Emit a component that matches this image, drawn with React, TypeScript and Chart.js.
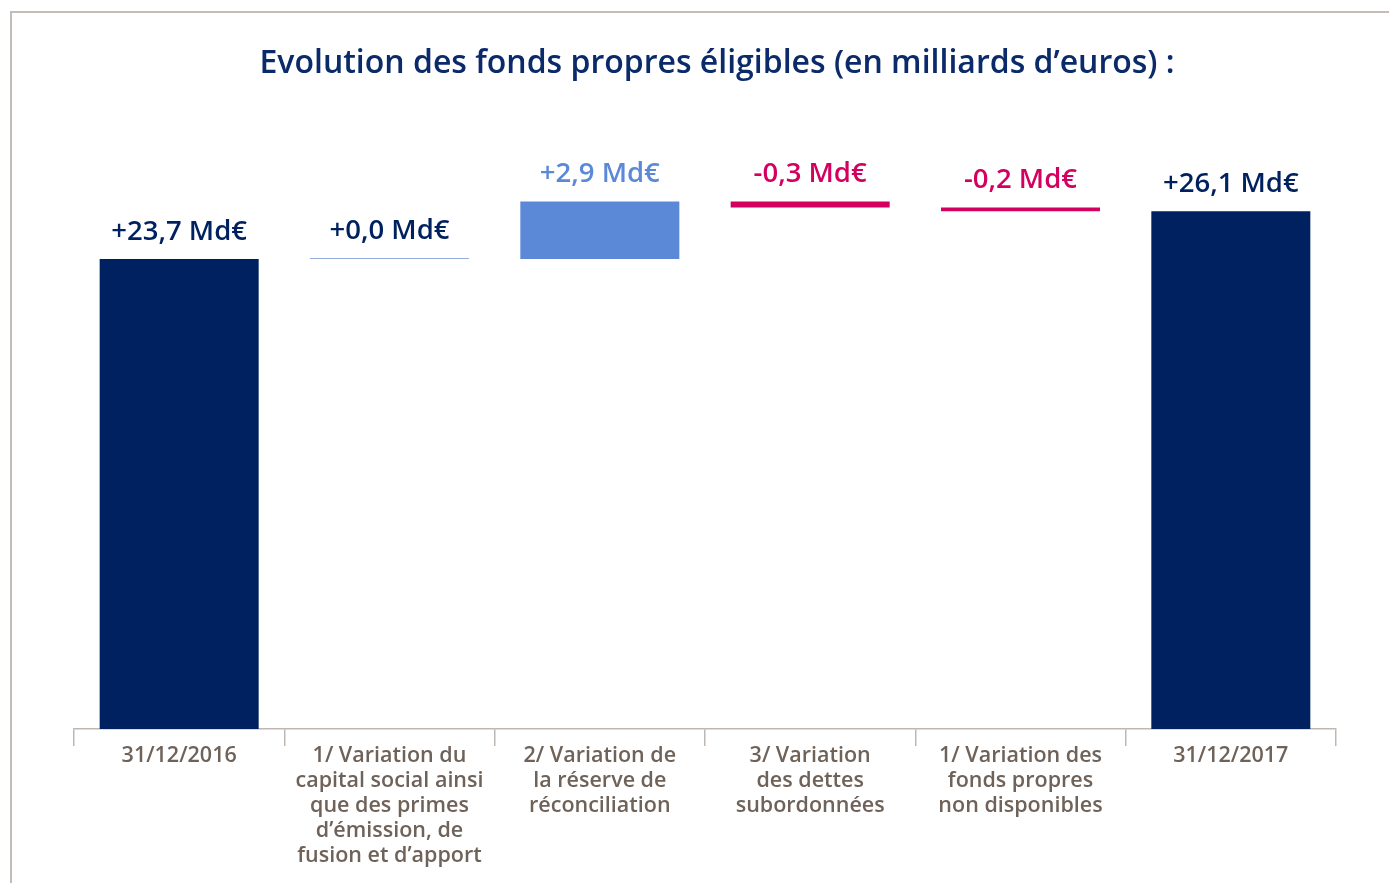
import React, { useEffect, useRef } from "react";
import { Chart, registerables } from "chart.js";

Chart.register(...registerables);

const TITLE = "Evolution des fonds propres éligibles (en milliards d’euros) :";
const categories: string[][] = [
  ["31/12/2016"],
  ["1/ Variation du", "capital social ainsi", "que des primes", "d’émission, de", "fusion et d’apport"],
  ["2/ Variation de", "la réserve de", "réconciliation"],
  ["3/ Variation", "des dettes", "subordonnées"],
  ["1/ Variation des", "fonds propres", "non disponibles"],
  ["31/12/2017"],
];
const barStarts: number[] = [0, 23.7, 23.7, 26.6, 26.3, 0];
const barEnds: number[] = [23.7, 23.7, 26.6, 26.3, 26.1, 26.1];
const valueLabels: string[] = ["+23,7 Md€", "+0,0 Md€", "+2,9 Md€", "-0,3 Md€", "-0,2 Md€", "+26,1 Md€"];
const barColors: string[] = ["#00215f", "#94aede", "#5b88d7", "#d4005f", "#d4005f", "#00215f"];
const labelColors: string[] = ["#00215f", "#00215f", "#5b88d7", "#d4005f", "#d4005f", "#00215f"];

const FONT = "'Open Sans', 'Noto Sans', sans-serif";

export default function App() {
  const ref = useRef<HTMLCanvasElement | null>(null);
  useEffect(() => {
    if (!ref.current) return;
    const labelPlugin = {
      id: "valueLabels",
      afterDatasetsDraw(chart: any) {
        const ctx = chart.ctx;
        const meta = chart.getDatasetMeta(0);
        ctx.save();
        ctx.font = `600 27.5px ${FONT}`;
        ctx.textAlign = "center";
        ctx.textBaseline = "middle";
        meta.data.forEach((el: any, i: number) => {
          const top = Math.min(el.y, el.base);
          ctx.fillStyle = labelColors[i];
          ctx.fillText(valueLabels[i], el.x, top - 27);
        });
        ctx.restore();
      },
    };
    const titlePlugin = {
      id: "customTitle",
      afterDraw(chart: any) {
        const ctx = chart.ctx;
        ctx.save();
        ctx.font = `600 32px ${FONT}`;
        ctx.fillStyle = "#0a2a6a";
        ctx.textAlign = "center";
        ctx.textBaseline = "middle";
        ctx.fillText(TITLE, 717, 64);
        ctx.restore();
      },
    };
    const chart = new Chart(ref.current, {
      type: "bar",
      data: {
        labels: categories,
        datasets: [
          {
            data: barStarts.map((s, i) => [s, barEnds[i]]) as any,
            backgroundColor: barColors,
            barPercentage: 0.756,
            categoryPercentage: 1,
            minBarLength: 1,
          },
        ],
      },
      options: {
        animation: false,
        responsive: false,
        layout: { padding: { left: 74, right: 53, top: 134, bottom: 0 } },
        plugins: { legend: { display: false }, tooltip: { enabled: false } },
        scales: {
          x: {
            afterFit(scale: any) {
              scale.height = 154;
            },
            border: { display: true, color: "#bfb7b2", width: 1.5 },
            grid: { offset: true, drawOnChartArea: false, drawTicks: true, tickLength: 17, color: "#bfb7b2", lineWidth: 1.5 },
            ticks: {
              color: "#6f6259",
              font: { family: FONT, size: 21.5, weight: "600" as any, lineHeight: "25px" as any },
              padding: -3,
              maxRotation: 0,
              autoSkip: false,
            },
          },
          y: { display: false, min: 0, max: 30 },
        },
      },
      plugins: [labelPlugin, titlePlugin],
    });
    return () => chart.destroy();
  }, []);
  return (
    <div style={{ position: "absolute", left: 0, top: 0, width: 1389, height: 883, background: "#fff" }}>
      <div style={{ position: "absolute", left: 10, top: 11, width: 1400, height: 900, borderTop: "2px solid #c4bcb8", borderLeft: "2px solid #c4bcb8" }} />
      <canvas ref={ref} width={1389} height={883} style={{ position: "absolute", left: 0, top: 0 }} />
    </div>
  );
}
